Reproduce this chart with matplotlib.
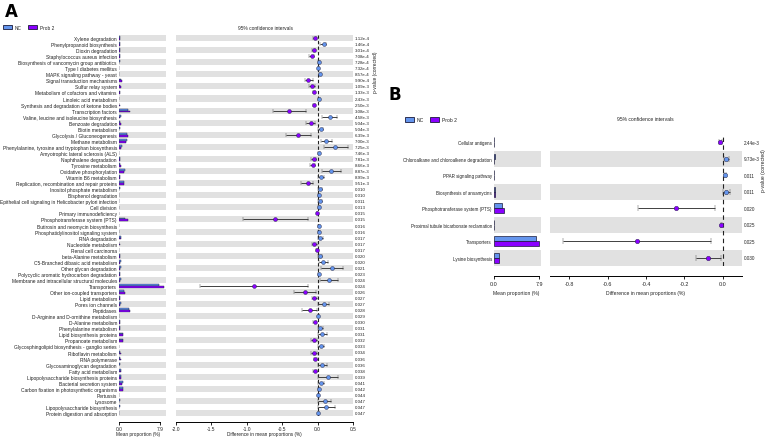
import matplotlib
matplotlib.use("Agg")
import matplotlib.pyplot as plt
from matplotlib import font_manager as fm
from matplotlib.patches import Rectangle
from matplotlib.transforms import blended_transform_factory
import numpy as np

# narrow font if there is one, otherwise Liberation Sans a bit smaller
_names = {f.name for f in fm.fontManager.ttflist}
if "Liberation Sans Narrow" in _names:
    FONT, K = "Liberation Sans Narrow", 1.2
else:
    FONT, K = "Liberation Sans", 1.0
plt.rcParams["font.family"] = [FONT, "DejaVu Sans"]

# =========================
# DATA - PANEL A
# =========================

features_a = [
    "Xylene degradation", "Phenylpropanoid biosynthesis", "Dioxin degradation",
    "Staphylococcus aureus infection", "Biosynthesis of vancomycin group antibiotics",
    "Type I diabetes mellitus", "MAPK signaling pathway - yeast",
    "Signal transduction mechanisms", "Sulfur relay system",
    "Metabolism of cofactors and vitamins", "Linoleic acid metabolism",
    "Synthesis and degradation of ketone bodies", "Transcription factors",
    "Valine, leucine and isoleucine biosynthesis", "Benzoate degradation",
    "Biotin metabolism", "Glycolysis / Gluconeogenesis", "Methane metabolism",
    "Phenylalanine, tyrosine and tryptophan biosynthesis",
    "Amyotrophic lateral sclerosis (ALS)", "Naphthalene degradation",
    "Tyrosine metabolism", "Oxidative phosphorylation", "Vitamin B6 metabolism",
    "Replication, recombination and repair proteins", "Inositol phosphate metabolism",
    "Bisphenol degradation", "Epithelial cell signaling in Helicobacter pylori infection",
    "Cell division", "Primary immunodeficiency", "Phosphotransferase system (PTS)",
    "Butirosin and neomycin biosynthesis", "Phosphatidylinositol signaling system",
    "RNA degradation", "Nucleotide metabolism", "Renal cell carcinoma",
    "beta-Alanine metabolism", "C5-Branched dibasic acid metabolism",
    "Other glycan degradation", "Polycyclic aromatic hydrocarbon degradation",
    "Membrane and intracellular structural molecules", "Transporters",
    "Other ion-coupled transporters", "Lipid metabolism", "Pores ion channels",
    "Peptidases", "D-Arginine and D-ornithine metabolism", "D-Alanine metabolism",
    "Phenylalanine metabolism", "Lipid biosynthesis proteins", "Propanoate metabolism",
    "Glycosphingolipid biosynthesis - ganglio series", "Riboflavin metabolism",
    "RNA polymerase", "Glycosaminoglycan degradation", "Fatty acid metabolism",
    "Lipopolysaccharide biosynthesis proteins", "Bacterial secretion system",
    "Carbon fixation in photosynthetic organisms", "Pertussis", "Lysosome",
    "Lipopolysaccharide biosynthesis", "Protein digestion and absorption",
]

nc_a = [0.10, 0.20, 0.12, 0.20, 0.10, 0.05, 0.06, 0.40, 0.22, 0.10, 0.08, 0.05,
        1.80, 0.45, 0.22, 0.12, 1.45, 1.55, 0.60, 0.05, 0.15, 0.25, 1.15, 0.18,
        0.90, 0.12, 0.04, 0.08, 0.06, 0.03, 1.15, 0.06, 0.07, 0.42, 0.08, 0.03,
        0.22, 0.30, 0.45, 0.12, 0.42, 7.70, 1.00, 0.18, 0.35, 2.00, 0.05, 0.12,
        0.22, 0.75, 0.70, 0.07, 0.25, 0.28, 0.12, 0.30, 0.45, 0.70, 0.80, 0.04,
        0.15, 0.20, 0.03]

prob2_a = [0.14, 0.12, 0.18, 0.28, 0.08, 0.04, 0.03, 0.53, 0.30, 0.15, 0.06, 0.11,
           2.20, 0.28, 0.32, 0.08, 1.72, 1.43, 0.35, 0.03, 0.21, 0.32, 0.96, 0.13,
           1.04, 0.08, 0.03, 0.04, 0.04, 0.04, 1.75, 0.04, 0.05, 0.38, 0.13, 0.05,
           0.18, 0.22, 0.25, 0.11, 0.26, 8.60, 1.18, 0.23, 0.27, 2.11, 0.04, 0.16,
           0.18, 0.69, 0.76, 0.03, 0.30, 0.31, 0.06, 0.34, 0.30, 0.65, 0.79, 0.03,
           0.05, 0.08, 0.02]

diff_a = [-0.04, 0.085, -0.057, -0.08, 0.02, 0.01, 0.03, -0.13, -0.08, -0.05, 0.02,
          -0.057, -0.40, 0.17, -0.10, 0.045, -0.27, 0.12, 0.25, 0.02, -0.057, -0.07,
          0.19, 0.05, -0.14, 0.04, 0.015, 0.04, 0.025, -0.01, -0.60, 0.02, 0.02,
          0.04, -0.05, -0.015, 0.04, 0.08, 0.20, 0.015, 0.165, -0.90, -0.18, -0.05,
          0.085, -0.11, 0.01, -0.04, 0.04, 0.065, -0.055, 0.045, -0.05, -0.03,
          0.065, -0.04, 0.15, 0.05, 0.015, 0.01, 0.10, 0.12, 0.01]

ci_low_a = [-0.06, 0.04, -0.08, -0.12, 0.01, 0.005, 0.015, -0.18, -0.12, -0.07, 0.01,
            -0.07, -0.63, 0.06, -0.16, 0.01, -0.45, 0.05, 0.085, 0.01, -0.09, -0.105,
            0.06, 0.01, -0.23, 0.01, 0.005, 0.01, 0.01, -0.015, -1.06, 0.01, 0.01,
            0.01, -0.08, -0.025, 0.01, 0.025, 0.045, 0.005, 0.04, -1.66, -0.34, -0.085,
            0.005, -0.22, 0.005, -0.06, 0.01, 0.005, -0.09, 0.01, -0.09, -0.045,
            0.01, -0.065, 0.01, 0.01, 0.005, 0.005, 0.01, 0.01, 0.005]

ci_high_a = [-0.02, 0.12, -0.035, -0.045, 0.03, 0.015, 0.045, -0.07, -0.035, -0.03, 0.03,
             -0.04, -0.165, 0.27, -0.035, 0.08, -0.09, 0.20, 0.43, 0.03, -0.025, -0.035,
             0.33, 0.09, -0.06, 0.065, 0.025, 0.065, 0.04, -0.005, -0.14, 0.03, 0.03,
             0.07, -0.015, -0.005, 0.065, 0.145, 0.36, 0.025, 0.29, -0.14, -0.02, -0.015,
             0.16, -0.01, 0.015, -0.02, 0.07, 0.135, -0.015, 0.085, -0.015, -0.015,
             0.135, -0.015, 0.29, 0.095, 0.025, 0.015, 0.19, 0.24, 0.015]

pvals_a = ["1.12e-4", "1.46e-4", "3.01e-4", "7.08e-4", "7.28e-4", "7.32e-4", "8.57e-4",
           "9.90e-4", "1.09e-3", "1.33e-3", "2.43e-3", "2.50e-3", "3.08e-3", "4.58e-3",
           "5.04e-3", "5.04e-3", "6.39e-3", "7.00e-3", "7.25e-3", "7.46e-3", "7.81e-3",
           "8.66e-3", "8.87e-3", "8.99e-3", "9.51e-3", "0.010", "0.010", "0.011", "0.013",
           "0.015", "0.015", "0.016", "0.016", "0.017", "0.017", "0.017", "0.020",
           "0.020", "0.021", "0.023", "0.024", "0.024", "0.026", "0.027", "0.027",
           "0.028", "0.029", "0.030", "0.031", "0.031", "0.032", "0.033", "0.034",
           "0.036", "0.036", "0.038", "0.039", "0.041", "0.042", "0.044", "0.047",
           "0.047", "0.047"]

# =========================
# DATA - PANEL B
# =========================

features_b = ["Cellular antigens", "Chloroalkane and chloroalkene degradation",
              "PPAR signaling pathway", "Biosynthesis of ansamycins",
              "Phosphotransferase system (PTS)", "Proximal tubule bicarbonate reclamation",
              "Transporters", "Lysine biosynthesis"]
nc_b = [0.02, 0.10, 0.05, 0.12, 1.36, 0.03, 7.30, 0.83]
prob2_b = [0.035, 0.083, 0.04, 0.10, 1.66, 0.037, 7.85, 0.90]
diff_b = [-0.012, 0.017, 0.01, 0.019, -0.243, -0.007, -0.446, -0.075]
ci_low_b = [-0.018, 0.005, 0.004, 0.003, -0.44, -0.011, -0.83, -0.142]
ci_high_b = [-0.006, 0.03, 0.016, 0.035, -0.043, -0.003, -0.064, -0.009]
pvals_b = ["2.44e-3", "9.73e-3", "0.011", "0.011", "0.020", "0.025", "0.025", "0.030"]

groups = ["NC", "Prob 2"]

# =========================
# STYLE
# =========================

NC_COLOR = "#6495ed"
P2_COLOR = "#8a00ff"
EDGE = "#1a1a3a"
BAND = "#e1e1e1"
ERR = "#404040"
TXT = "#222222"

W, H = 767, 439
fig = plt.figure(figsize=(W / 100, H / 100), dpi=100)


def px_axes(x0, y0, x1, y1):
    return fig.add_axes([x0 / W, 1 - y1 / H, (x1 - x0) / W, (y1 - y0) / H])


def fxy(x, y):
    return x / W, 1 - y / H


def draw_panel(feat, nc, p2, diff, lo, hi, pvals, bar_box, ci_box, bar_xmax,
               ci_xlim, ci_ticks, fs, pfs, tfs, ms, cap, first_band, offset, bar_lw, dash):
    n = len(feat)
    y = np.arange(n)
    bands = [i for i in range(n) if i % 2 == first_band]

    # bar part
    ax = px_axes(*bar_box)
    for s in ["top", "right", "left"]:
        ax.spines[s].set_visible(False)
    ax.spines["bottom"].set_position(("outward", offset))
    ax.spines["bottom"].set_bounds(0, 7.9)
    ax.spines["bottom"].set_linewidth(0.7)
    ax.patch.set_visible(False)
    ax.set_ylim(n - 0.5, -0.5)
    ax.set_xlim(0, bar_xmax)
    for i in bands:
        ax.axhspan(i - 0.5, i + 0.5, color=BAND, lw=0, zorder=0)
    ax.barh(y - 0.15, nc, height=0.3, color=NC_COLOR, edgecolor=EDGE, lw=bar_lw, zorder=2)
    ax.barh(y + 0.15, p2, height=0.3, color=P2_COLOR, edgecolor=EDGE, lw=bar_lw, zorder=2)
    ax.set_yticks(y)
    ax.set_yticklabels(feat)
    ax.tick_params(axis="y", length=0, pad=1.5, labelsize=fs, labelcolor=TXT)
    ax.set_xticks([0, 7.9])
    ax.set_xticklabels(["0.0", "7.9"])
    ax.tick_params(axis="x", length=2, width=0.6, pad=1.5, labelsize=tfs, labelcolor=TXT)

    # confidence interval part
    cx = px_axes(*ci_box)
    for s in ["top", "right", "left"]:
        cx.spines[s].set_visible(False)
    cx.spines["bottom"].set_position(("outward", offset))
    cx.spines["bottom"].set_linewidth(0.7)
    cx.patch.set_visible(False)
    cx.set_ylim(n - 0.5, -0.5)
    cx.set_xlim(*ci_xlim)
    for i in bands:
        cx.axhspan(i - 0.5, i + 0.5, color=BAND, lw=0, zorder=0)
    cx.axvline(0, color=TXT, lw=0.8, ls=(0, dash), zorder=1)
    for i in range(n):
        c = NC_COLOR if diff[i] > 0 else P2_COLOR
        cx.errorbar(diff[i], i, xerr=[[diff[i] - lo[i]], [hi[i] - diff[i]]], fmt="o",
                    color=c, ecolor=ERR, elinewidth=0.7, capsize=cap, capthick=0.7,
                    ms=ms, mec=EDGE, mew=0.3, zorder=3)
    cx.set_yticks([])
    cx.set_xticks(ci_ticks)
    cx.set_xticklabels(["%.1f" % t for t in ci_ticks])
    cx.tick_params(axis="x", length=2, width=0.6, pad=1.5, labelsize=tfs, labelcolor=TXT)

    tr = blended_transform_factory(cx.transAxes, cx.transData)
    for i in range(n):
        cx.text(1.01, i, pvals[i], transform=tr, fontsize=pfs, va="center",
                ha="left", color=TXT)
    return ax, cx


def legend(x, y, w, h, gap, fs):
    fig.add_artist(Rectangle(fxy(x, y + h / 2), w / W, h / H, transform=fig.transFigure,
                             facecolor=NC_COLOR, edgecolor=EDGE, lw=0.6))
    fig.text(*fxy(x + w + 3, y), groups[0], fontsize=fs, va="center", ha="left", color=TXT)
    x2 = x + gap
    fig.add_artist(Rectangle(fxy(x2, y + h / 2), w / W, h / H, transform=fig.transFigure,
                             facecolor=P2_COLOR, edgecolor=EDGE, lw=0.6))
    fig.text(*fxy(x2 + w + 3, y), groups[1], fontsize=fs, va="center", ha="left", color=TXT)


# =========================
# PANEL A
# =========================

draw_panel(features_a, nc_a, prob2_a, diff_a, ci_low_a, ci_high_a, pvals_a,
           (119, 36, 166, 417), (176, 36, 353, 417), 9.06,
           (-2.0, 0.5), [-2.0, -1.5, -1.0, -0.5, 0.0, 0.5],
           fs=3.5 * K, pfs=3.15 * K, tfs=3.5 * K, ms=2.8, cap=1.2, first_band=0,
           offset=4, bar_lw=0.3, dash=(3, 2))

fig.text(*fxy(5, 3), "A", fontsize=12, fontweight="bold", va="top", ha="left",
         family="DejaVu Sans")
legend(3, 28, 9, 4.5, 25, 3.4 * K)
fig.text(*fxy(265, 28), "95% confidence intervals", fontsize=3.5 * K,
         ha="center", va="center", color=TXT)
fig.text(*fxy(138, 435), "Mean proportion (%)", fontsize=3.4 * K,
         ha="center", va="center", color=TXT)
fig.text(*fxy(264, 435), "Difference in mean proportions (%)", fontsize=3.4 * K,
         ha="center", va="center", color=TXT)
fig.text(*fxy(375, 72), "p-value (corrected)", fontsize=3.5 * K, rotation=90,
         ha="center", va="center", color=TXT)

# =========================
# PANEL B
# =========================

draw_panel(features_b, nc_b, prob2_b, diff_b, ci_low_b, ci_high_b, pvals_b,
           (494, 135, 541, 267), (550, 135, 742, 267), 8.2,
           (-0.9, 0.1), [-0.8, -0.6, -0.4, -0.2, 0.0],
           fs=3.25 * K, pfs=3.3 * K, tfs=3.9 * K, ms=3.2, cap=2.2, first_band=1,
           offset=7, bar_lw=0.5, dash=(4, 3))

fig.text(*fxy(389, 86), "B", fontsize=12, fontweight="bold", va="top", ha="left",
         family="DejaVu Sans")
legend(405, 120.5, 8.5, 5, 25, 3.6 * K)
fig.text(*fxy(645, 120), "95% confidence intervals", fontsize=3.6 * K,
         ha="center", va="center", color=TXT)
fig.text(*fxy(516, 294), "Mean proportion (%)", fontsize=3.6 * K,
         ha="center", va="center", color=TXT)
fig.text(*fxy(646, 294), "Difference in mean proportions (%)", fontsize=3.6 * K,
         ha="center", va="center", color=TXT)
fig.text(*fxy(764, 171), "p-value (corrected)", fontsize=3.6 * K, rotation=90,
         ha="center", va="center", color=TXT)

fig.savefig("out.png", dpi=100)
